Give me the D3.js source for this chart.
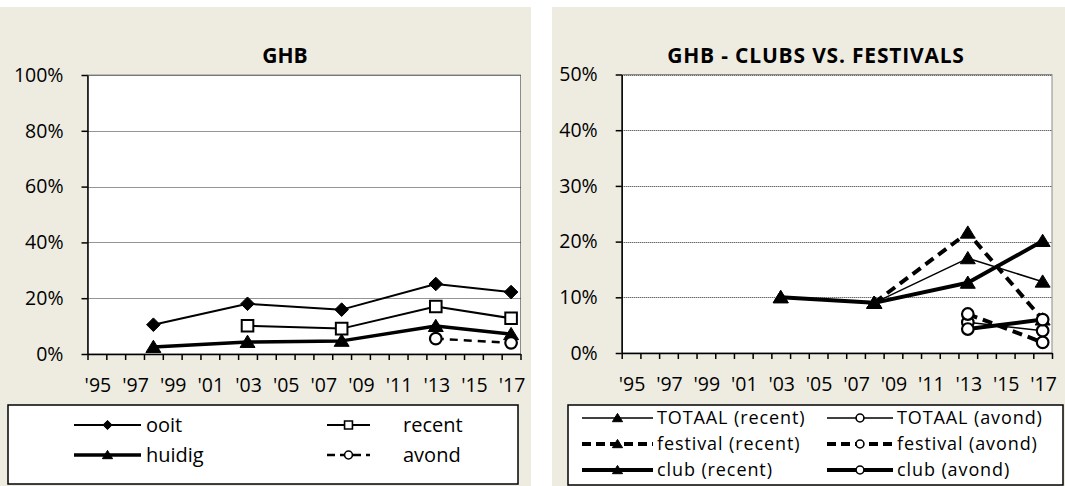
<!DOCTYPE html>
<html>
<head>
<meta charset="utf-8">
<script src="https://cdn.jsdelivr.net/npm/d3@7"></script>
<style>
  body { margin: 0; background: #ffffff; }
  svg { display: block; font-family: "Open Sans", "Noto Sans", sans-serif; }
</style>
</head>
<body>
<svg id="chart" width="1065" height="486"></svg>
<script>
// ---- data ----------------------------------------------------------
const years = d3.range(1995, 2018);                       // category axis
const xTickYears  = [1995, 1997, 1999, 2001, 2003, 2005, 2007, 2009, 2011, 2013, 2015, 2017];
const xTickLabels = ["'95", "'97", "'99", "'01", "'03", "'05", "'07", "'09", "'11", "'13", "'15", "'17"];

// left panel: GHB
const ghbYears = [1998, 2003, 2008, 2013, 2017];
const ooit     = [10.5, 18.0, 15.9, 25.1, 22.2];
const recent   = [null, 10.1, 9.1, 17.0, 12.8];
const huidig   = [2.5, 4.3, 4.7, 10.0, 7.1];
const avond    = [null, null, null, 5.5, 4.0];
const leftTicks = [0, 20, 40, 60, 80, 100];

// right panel: clubs vs. festivals
const cfYears        = [2003, 2008, 2013, 2017];
const totaalRecent   = [10.0, 9.0, 17.0, 12.8];
const totaalAvond    = [null, null, 5.5, 4.0];
const festivalRecent = [null, 9.0, 21.6, 6.0];
const festivalAvond  = [null, null, 7.0, 1.9];
const clubRecent     = [10.0, 9.0, 12.6, 20.1];
const clubAvond      = [null, null, 4.3, 6.0];
const rightTicks = [0, 10, 20, 30, 40, 50];

// ---- marker shapes -------------------------------------------------
const shapes = {
  diamond: { draw(ctx, s) { const r = s; ctx.moveTo(0, -r); ctx.lineTo(r, 0); ctx.lineTo(0, r); ctx.lineTo(-r, 0); ctx.closePath(); } },
  square:  { draw(ctx, s) { const h = s; ctx.rect(-h, -h, 2 * h, 2 * h); } },
  triangle:{ draw(ctx, s) { const h = s; ctx.moveTo(0, -h); ctx.lineTo(h * 1.1, h * 0.8); ctx.lineTo(-h * 1.1, h * 0.8); ctx.closePath(); } },
  circle:  { draw(ctx, s) { ctx.moveTo(s, 0); ctx.arc(0, 0, s, 0, 2 * Math.PI); } }
};
const markerStyle = {
  diamond:  { fill: "#000", stroke: "#000", sw: 1, r: 6.8 },
  square:   { fill: "#fff", stroke: "#000", sw: 2, r: 5.8 },
  triangle: { fill: "#000", stroke: "#000", sw: 1, r: 6.8 },
  circle:   { fill: "#fff", stroke: "#000", sw: 2.2, r: 5.8 }
};
function drawMarker(g, shape, cx, cy, k) {
  const st = markerStyle[shape];
  // d3.symbol passes `size` to the draw function; it is used as a half-size here
  g.append("path")
    .attr("d", d3.symbol().type(shapes[shape]).size(st.r * (k || 1))())
    .attr("transform", `translate(${cx},${cy})`)
    .attr("fill", st.fill)
    .attr("stroke", st.stroke)
    .attr("stroke-width", k ? Math.min(st.sw, 1.6) : st.sw)
    .attr("stroke-linejoin", "miter");
}

const svg = d3.select("#chart");
const BG = "#EEECE1";

// ---- panel builder -------------------------------------------------
function panel(cfg) {
  const g = svg.append("g");
  g.append("rect").attr("x", cfg.bg[0]).attr("y", cfg.bg[1])
    .attr("width", cfg.bg[2]).attr("height", cfg.bg[3]).attr("fill", BG);

  const x = d3.scaleLinear().domain([1994.5, 2017.5]).range([cfg.x0, cfg.x1]);
  const y = d3.scaleLinear().domain([0, cfg.yMax]).range([cfg.y1, cfg.y0]);

  // plot area
  g.append("rect").attr("x", cfg.x0).attr("y", cfg.y0)
    .attr("width", cfg.x1 - cfg.x0).attr("height", cfg.y1 - cfg.y0)
    .attr("fill", "#fff").attr("stroke", "#8a8a8a").attr("stroke-width", 1);

  // gridlines
  g.append("g").selectAll("line").data(cfg.yTicks.filter(v => v > 0)).join("line")
    .attr("x1", cfg.x0).attr("x2", cfg.x1)
    .attr("y1", d => Math.round(y(d)) + 0.5).attr("y2", d => Math.round(y(d)) + 0.5)
    .attr("stroke", "#2a2a2a").attr("stroke-width", 1).attr("stroke-dasharray", "1,1");

  // title
  g.append("text").attr("x", cfg.titleX).attr("y", cfg.titleY)
    .attr("text-anchor", "middle").attr("font-weight", "bold")
    .attr("font-size", 21).attr("letter-spacing", cfg.titleSpacing || 0)
    .attr("fill", "#000").text(cfg.title);

  // y axis
  const ya = g.append("g").attr("transform", `translate(${cfg.x0},0)`)
    .call(d3.axisLeft(y).tickValues(cfg.yTicks).tickSize(6).tickSizeOuter(0)
      .tickPadding(18).tickFormat(d => d + "%"));
  ya.select(".domain").attr("stroke", "#000").attr("stroke-width", 1.5);
  ya.selectAll(".tick line").attr("stroke", "#000").attr("stroke-width", 1.5);
  ya.selectAll(".tick text").attr("font-size", 19.5).attr("fill", "#000")
    .attr("font-family", "'Open Sans', sans-serif");

  // x axis: ticks on category boundaries, labels on every second category
  const xa = g.append("g").attr("transform", `translate(0,${cfg.y1})`)
    .call(d3.axisBottom(x).tickValues(d3.range(1994.5, 2018, 1)).tickSize(6)
      .tickSizeOuter(0).tickFormat(""));
  xa.select(".domain").attr("stroke", "#000").attr("stroke-width", 1.5);
  xa.selectAll(".tick line").attr("stroke", "#000").attr("stroke-width", 1.5);
  g.append("g").selectAll("text").data(xTickYears).join("text")
    .attr("x", d => x(d) + 1).attr("y", cfg.y1 + 38)
    .attr("text-anchor", "middle").attr("font-size", 19.5).attr("fill", "#000")
    .text((d, i) => xTickLabels[i]);

  // series
  const plot = g.append("g");
  cfg.series.forEach(s => {
    const pts = cfg.xs.map((yr, i) => ({ yr, v: s.values[i] })).filter(p => p.v != null);
    plot.append("path").datum(pts)
      .attr("d", d3.line().x(p => x(p.yr)).y(p => y(p.v)))
      .attr("fill", "none").attr("stroke", "#000").attr("stroke-width", s.w)
      .attr("stroke-dasharray", s.dash || null).attr("stroke-linejoin", "round");
    pts.forEach(p => drawMarker(plot, s.marker, x(p.yr), y(p.v)));
  });

  // legend
  const L = cfg.legend;
  g.append("rect").attr("x", L.box[0]).attr("y", L.box[1])
    .attr("width", L.box[2]).attr("height", L.box[3])
    .attr("fill", "#fff").attr("stroke", "#000").attr("stroke-width", 1.5);
  cfg.series.forEach((s, i) => {
    const col = i % 2, row = Math.floor(i / 2);
    const c = L.cols[col], ly = L.rows[row];
    g.append("line").attr("x1", c[0]).attr("x2", c[1]).attr("y1", ly).attr("y2", ly)
      .attr("stroke", "#000").attr("stroke-width", s.w)
      .attr("stroke-dasharray", s.legendDash || s.dash || null);
    drawMarker(g, s.marker, (c[0] + c[1]) / 2, ly, 0.68);
    g.append("text").attr("x", c[2]).attr("y", ly).attr("dy", "0.35em")
      .attr("font-size", L.fs).attr("letter-spacing", L.ls || 0)
      .attr("fill", "#000").text(s.name);
  });
}

panel({
  bg: [0, 7, 531, 479],
  x0: 87.5, x1: 520.5, y0: 75, y1: 354, yMax: 100, yTicks: leftTicks,
  title: "GHB", titleX: 285, titleY: 62.5,
  xs: ghbYears,
  series: [
    { name: "ooit",   values: ooit,   w: 2,   marker: "diamond" },
    { name: "recent", values: recent, w: 2,   marker: "square" },
    { name: "huidig", values: huidig, w: 3.5, marker: "triangle" },
    { name: "avond",  values: avond,  w: 2.5, marker: "circle", dash: "8,6", legendDash: "8,5" }
  ],
  legend: { box: [8, 405, 510, 79], fs: 20,
            cols: [[74, 141, 146], [327, 370, 403]], rows: [425, 455] }
});

panel({
  bg: [552, 7, 513, 479],
  x0: 621.7, x1: 1052, y0: 74.5, y1: 353, yMax: 50, yTicks: rightTicks,
  title: "GHB  -  CLUBS VS. FESTIVALS", titleX: 816, titleY: 62.5, titleSpacing: 0.8,
  xs: cfYears,
  series: [
    { name: "TOTAAL (recent)",   values: totaalRecent,   w: 1.5, marker: "triangle" },
    { name: "TOTAAL (avond)",    values: totaalAvond,    w: 1.5, marker: "circle" },
    { name: "festival (recent)", values: festivalRecent, w: 4,   marker: "triangle", dash: "10,6", legendDash: "9,5" },
    { name: "festival (avond)",  values: festivalAvond,  w: 4,   marker: "circle",   dash: "10,6", legendDash: "9,5" },
    { name: "club (recent)",     values: clubRecent,     w: 4,   marker: "triangle" },
    { name: "club (avond)",      values: clubAvond,      w: 4,   marker: "circle" }
  ],
  legend: { box: [568, 405, 495, 80], fs: 18, ls: 0.9,
            cols: [[582, 653, 657], [827, 893, 897]], rows: [418, 444, 470] }
});
</script>
</body>
</html>
